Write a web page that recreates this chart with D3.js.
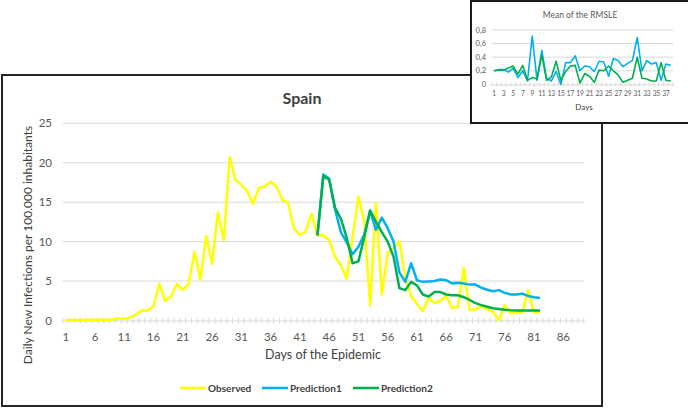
<!DOCTYPE html>
<html><head><meta charset="utf-8">
<script src="https://cdn.jsdelivr.net/npm/d3@7"></script>
<style>body{margin:0;background:#fff} svg{display:block} text{font-family:Lato,"Open Sans",sans-serif}</style>
</head><body><svg width="688" height="409"></svg>
<script>
// ---------- data ----------
const dayCategories = d3.range(1, 90);
const dayTickLabels = [1, 6, 11, 16, 21, 26, 31, 36, 41, 46, 51, 56, 61, 66, 71, 76, 81, 86];
const yTickValues = [0, 5, 10, 15, 20, 25];
const observedStart = 1;
const observed = [0.05, 0.05, 0.05, 0.05, 0.1, 0.1, 0.1, 0.1, 0.1, 0.3,
  0.2, 0.4, 0.75, 1.3, 1.25, 1.8, 4.65, 2.5, 3.05, 4.65,
  3.85, 4.65, 8.7, 5.2, 10.7, 7.2, 13.7, 10.2, 20.7, 17.8,
  17.2, 16.4, 14.8, 16.8, 17.0, 17.6, 17.0, 15.3, 14.9, 11.7,
  10.8, 11.3, 13.5, 10.8, 10.8, 10.2, 8.1, 7.0, 5.3, 10.5,
  15.7, 12.6, 1.9, 14.9, 3.3, 8.6, 9.2, 10.0, 5.5, 3.1,
  2.1, 1.2, 2.9, 2.2, 2.5, 3.1, 1.6, 1.7, 6.7, 1.35,
  1.4, 1.8, 1.45, 1.1, 0.0, 1.95, 0.9, 1.05, 1.0, 3.85,
  1.0, 1.05];
const predictionStart = 44;
const prediction1 = [10.8, 18.5, 18.0, 14.1, 11.2, 9.9, 8.4, 9.35, 10.9, 13.9,
  11.5, 13.05, 11.7, 10.0, 6.1, 4.9, 7.25, 5.1, 4.9, 4.95,
  5.0, 5.2, 5.1, 4.7, 4.8, 4.7, 4.55, 4.55, 4.15, 3.9,
  3.7, 3.85, 3.5, 3.3, 3.3, 3.4, 3.1, 2.95, 2.85];
const prediction2 = [10.8, 18.3, 17.85, 14.3, 12.9, 10.5, 7.25, 7.5, 10.6, 13.95,
  12.5, 11.2, 10.0, 8.1, 4.1, 3.85, 4.9, 4.45, 3.3, 3.05,
  3.6, 3.6, 3.3, 3.2, 3.2, 2.95, 2.6, 2.2, 1.95, 1.75,
  1.55, 1.45, 1.35, 1.3, 1.28, 1.28, 1.28, 1.28, 1.28];
const seriesNames = ["Observed", "Prediction1", "Prediction2"];
const seriesColors = ["#FFFF00", "#00B0F0", "#00B050"];

const rmsleDays = d3.range(1, 39);
const rmsleTickLabels = [1, 3, 5, 7, 9, 11, 13, 15, 17, 19, 21, 23, 25, 27, 29, 31, 33, 35, 37];
const rmsleTickValues = [0, 0.2, 0.4, 0.6, 0.8];
const rmslePrediction1 = [0.2, 0.22, 0.22, 0.18, 0.24, 0.10, 0.2, 0.05, 0.71, 0.06,
  0.5, 0.09, 0.05, 0.19, 0.0, 0.32, 0.32, 0.42, 0.2, 0.27,
  0.26, 0.19, 0.34, 0.33, 0.12, 0.38, 0.35, 0.26, 0.31, 0.35,
  0.69, 0.2, 0.35, 0.3, 0.32, 0.06, 0.3, 0.28];
const rmslePrediction2 = [0.2, 0.21, 0.21, 0.24, 0.27, 0.15, 0.28, 0.06, 0.1, 0.08,
  0.43, 0.06, 0.11, 0.34, 0.06, 0.19, 0.27, 0.28, 0.02, 0.16,
  0.12, 0.03, 0.21, 0.2, 0.27, 0.2, 0.14, 0.03, 0.06, 0.09,
  0.4, 0.09, 0.08, 0.05, 0.05, 0.32, 0.06, 0.05];

// ---------- main chart ----------
const svg = d3.select("svg");
const textDark = "#404040", textGray = "#595959", gridColor = "#d9d9d9";

svg.append("rect").attr("x", 2).attr("y", 75).attr("width", 600).attr("height", 331)
  .attr("fill", "#fff").attr("stroke", "#262626").attr("stroke-width", 2);

const x = d3.scaleBand().domain(dayCategories).range([62.8, 583.8]).padding(0);
const y = d3.scaleLinear().domain([0, 25]).range([320.5, 123.3]);
const bw = x.bandwidth();
const cx = d => x(d) + bw / 2;

const g = svg.append("g");
g.selectAll("line.grid").data(yTickValues.filter(v => v > 0)).join("line")
  .attr("x1", x.range()[0]).attr("x2", x.range()[1])
  .attr("y1", d => y(d)).attr("y2", d => y(d))
  .attr("stroke", gridColor).attr("stroke-width", 1);

// y labels
g.selectAll("text.ylab").data(yTickValues).join("text")
  .attr("x", 52).attr("y", d => y(d) + 4).attr("text-anchor", "end")
  .attr("font-size", 11.5).attr("fill", textGray).text(d => d);

// x axis
const xAxis = d3.axisBottom(x).tickValues(dayTickLabels).tickSize(0).tickPadding(12);
const xg = g.append("g").attr("transform", `translate(0,${y(0)})`).call(xAxis);
xg.select(".domain").attr("stroke", gridColor);
xg.selectAll("text").attr("font-size", 11.5).attr("fill", textGray).attr("font-family", "Lato");
// minor tick marks at category boundaries
const boundaries = dayCategories.map(d => x(d)).concat([x.range()[1]]);
g.selectAll("line.mt").data(boundaries).join("line")
  .attr("x1", d => d).attr("x2", d => d)
  .attr("y1", y(0) - 3).attr("y2", y(0) + 3)
  .attr("stroke", gridColor).attr("stroke-width", 1);

const line = d3.line().x(d => cx(d.day)).y(d => y(d.v));
const seriesData = [
  observed.map((v, i) => ({day: observedStart + i, v})),
  prediction1.map((v, i) => ({day: predictionStart + i, v})),
  prediction2.map((v, i) => ({day: predictionStart + i, v}))
];
seriesData.forEach((s, i) => {
  g.append("path").datum(s).attr("d", line).attr("fill", "none")
    .attr("stroke", seriesColors[i]).attr("stroke-width", 2.5)
    .attr("stroke-linejoin", "round");
});

svg.append("text").attr("x", 302).attr("y", 104).attr("text-anchor", "middle")
  .attr("font-size", 16).attr("font-weight", "bold").attr("fill", textDark).text("Spain");
svg.append("text").attr("transform", "translate(32,245) rotate(-90)").attr("text-anchor", "middle")
  .attr("font-size", 12).attr("fill", textDark).text("Daily New Infections per 100.000 inhabitants");
svg.append("text").attr("x", 323).attr("y", 359).attr("text-anchor", "middle")
  .attr("font-size", 12.5).attr("fill", textDark).text("Days of the Epidemic");

// legend
const legendX = [180, 262, 353];
const lg = svg.append("g");
seriesNames.forEach((n, i) => {
  lg.append("line").attr("x1", legendX[i]).attr("x2", legendX[i] + 26)
    .attr("y1", 388).attr("y2", 388).attr("stroke", seriesColors[i]).attr("stroke-width", 2.5);
  lg.append("text").attr("x", legendX[i] + 28).attr("y", 391.5)
    .attr("font-size", 10).attr("font-weight", "bold").attr("fill", textDark).text(n);
});

// ---------- inset chart ----------
const ig = svg.append("g");
ig.append("rect").attr("x", 471).attr("y", 1).attr("width", 230).attr("height", 122)
  .attr("fill", "#fff").attr("stroke", "#1a1a1a").attr("stroke-width", 2);

const xi = d3.scaleBand().domain(rmsleDays).range([491.7, 673]).padding(0);
const yi = d3.scaleLinear().domain([0, 0.8]).range([84.4, 30]);
const bwi = xi.bandwidth();
const fmt = v => v === 0 ? "0" : d3.format(".1f")(v).replace(".", ",");

ig.selectAll("line.g").data(rmsleTickValues.filter(v => v > 0)).join("line")
  .attr("x1", xi.range()[0]).attr("x2", xi.range()[1])
  .attr("y1", d => yi(d)).attr("y2", d => yi(d))
  .attr("stroke", gridColor).attr("stroke-width", 1);
ig.selectAll("text.yl").data(rmsleTickValues).join("text")
  .attr("x", 486).attr("y", d => yi(d) + 2.5).attr("text-anchor", "end")
  .attr("font-size", 7.5).attr("fill", textGray).text(fmt);
const xia = d3.axisBottom(xi).tickValues(rmsleTickLabels).tickSize(0).tickPadding(7);
const xig = ig.append("g").attr("transform", `translate(0,${yi(0)})`).call(xia);
xig.select(".domain").attr("stroke", gridColor);
xig.selectAll("text").attr("font-size", 6.6).attr("letter-spacing", -0.2)
  .attr("fill", textGray).attr("font-family", "Lato");
const bi = rmsleDays.map(d => xi(d)).concat([xi.range()[1]]);
ig.selectAll("line.mt").data(bi).join("line")
  .attr("x1", d => d).attr("x2", d => d).attr("y1", yi(0) - 2).attr("y2", yi(0) + 2)
  .attr("stroke", gridColor);

const iline = d3.line().x(d => xi(d.day) + bwi / 2).y(d => yi(d.v));
[rmslePrediction1, rmslePrediction2].forEach((arr, i) => {
  ig.append("path").datum(arr.map((v, j) => ({day: rmsleDays[j], v})))
    .attr("d", iline).attr("fill", "none").attr("stroke", seriesColors[i + 1])
    .attr("stroke-width", 1.6).attr("stroke-linejoin", "round");
});
ig.append("text").attr("x", 580).attr("y", 18).attr("text-anchor", "middle")
  .attr("font-size", 8.5).attr("fill", textGray).text("Mean of the RMSLE");
ig.append("text").attr("x", 584).attr("y", 110).attr("text-anchor", "middle")
  .attr("font-size", 8).attr("fill", textDark).text("Days");
</script></body></html>
